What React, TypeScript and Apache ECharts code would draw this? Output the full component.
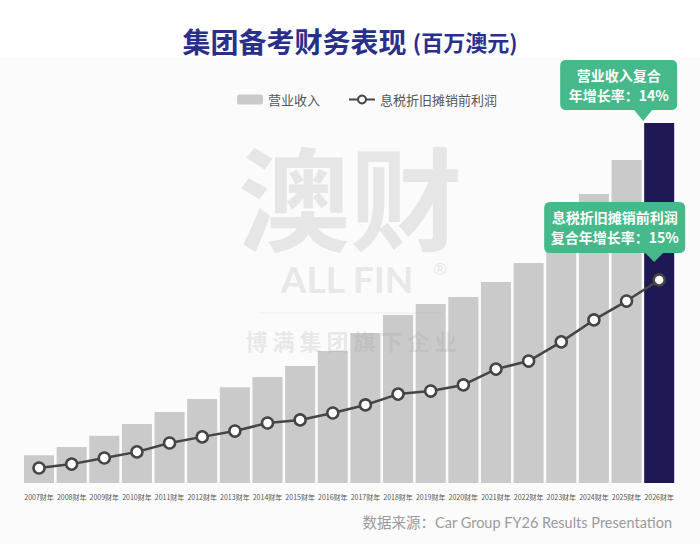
import React, { useEffect, useRef } from "react";
import * as echarts from "echarts";

const categories = [
  "2007财年", "2008财年", "2009财年", "2010财年", "2011财年", "2012财年", "2013财年",
  "2014财年", "2015财年", "2016财年", "2017财年", "2018财年", "2019财年", "2020财年",
  "2021财年", "2022财年", "2023财年", "2024财年", "2025财年", "2026财年",
];
const revenue = [100, 130, 170, 212, 256, 302, 345, 382, 421, 475, 540, 605, 644, 670, 724, 792, 911, 1040, 1163, 1296];
const ebitda = [54, 68, 90, 112, 144, 166, 187, 216, 227, 252, 281, 320, 331, 353, 410, 439, 508, 587, 655, 731];
const seriesNames = ["营业收入", "息税折旧摊销前利润"];
const revenueNote = "营业收入复合\n年增长率：14%";
const ebitdaNote = "息税折旧摊销前利润\n复合年增长率：15%";
const titleMain = "集团备考财务表现";
const titleUnit = "(百万澳元)";
const sourceText = "数据来源：Car Group FY26 Results Presentation";

const FONT = "'Noto Sans CJK SC', 'Noto Sans', sans-serif";
const GREEN = "#45b98a";
const NAVY = "#1e1854";
const GRAY = "#cacaca";
const LINE = "#454545";
const WM = "rgba(150,150,150,0.21)";

const bubbleTop =
  "path://M6,0 H111 Q117,0 117,6 V44 Q117,50 111,50 H92 L83,61 L74,50 H6 Q0,50 0,44 V6 Q0,0 6,0 Z";
const bubbleBottom =
  "path://M6,0 H135 Q141,0 141,6 V45 Q141,51 135,51 H119 L110,60 L101,51 H6 Q0,51 0,45 V6 Q0,0 6,0 Z";

export default function App() {
  const ref = useRef<HTMLDivElement>(null);
  useEffect(() => {
    document.body.style.margin = "0";
    const chart = echarts.init(ref.current!, null, { renderer: "svg" });
    const last = categories.length - 1;
    chart.setOption({
      animation: false,
      backgroundColor: "#ffffff",
      textStyle: { fontFamily: FONT },
      title: {
        text: `${titleMain} {u|${titleUnit}}`,
        left: "center",
        top: 22,
        textStyle: {
          fontFamily: FONT,
          fontSize: 28,
          fontWeight: "bold",
          color: "#2a2f8c",
          rich: {
            u: { fontFamily: FONT, fontSize: 22, fontWeight: "bold", color: "#2a2f8c" },
          },
        },
      },
      legend: {
        data: seriesNames,
        left: 232,
        top: 88,
        itemWidth: 26,
        itemHeight: 10,
        itemGap: 28,
        textStyle: { color: "#555", fontSize: 13, fontFamily: FONT },
      },
      graphic: [
        {
          type: "rect",
          z: -10,
          shape: { x: 0, y: 58, width: 700, height: 486 },
          style: { fill: "#fbfbfb" },
        },
        {
          type: "text",
          z: 20,
          x: 350,
          y: 194,
          style: {
            text: "澳财",
            fontFamily: FONT,
            fontSize: 112,
            lineHeight: 100,
            fontWeight: "bold",
            fill: WM,
            align: "center",
            verticalAlign: "middle",
          },
        },
        {
          type: "text",
          z: 20,
          x: 347,
          y: 278,
          style: {
            text: "ALL FIN",
            fontFamily: "Lato, 'Noto Sans', sans-serif",
            fontSize: 37,
            lineHeight: 30,
            fontWeight: "bold",
            fill: WM,
            align: "center",
            verticalAlign: "middle",
          },
        },
        {
          type: "text",
          z: 20,
          x: 433,
          y: 268,
          style: {
            text: "®",
            fontFamily: "'Noto Sans', sans-serif",
            fontSize: 17,
            lineHeight: 15,
            fill: WM,
            align: "left",
            verticalAlign: "middle",
          },
        },
        {
          type: "line",
          z: 20,
          shape: { x1: 260, y1: 313, x2: 442, y2: 313 },
          style: { stroke: "rgba(150,150,150,0.15)", lineWidth: 1 },
        },
        {
          type: "text",
          z: 20,
          x: 351,
          y: 340,
          style: {
            text: "博 满 集 团 旗 下 企 业",
            fontFamily: FONT,
            fontSize: 22,
            fontWeight: "bold",
            fill: WM,
            align: "center",
            verticalAlign: "middle",
          },
        },
        {
          type: "text",
          z: 10,
          x: 672,
          y: 522,
          style: {
            text: sourceText,
            fontFamily: "Lato, 'Noto Sans CJK SC', sans-serif",
            fontSize: 14.5,
            fill: "#9a9a9a",
            align: "right",
            verticalAlign: "middle",
          },
        },
      ],
      grid: { left: 22.7, right: 24.5, top: 83, bottom: 61, containLabel: false },
      xAxis: {
        type: "category",
        data: categories,
        axisLine: { show: false },
        axisTick: { show: false },
        axisLabel: { interval: 0, fontSize: 7, color: "#555", margin: 10, fontFamily: FONT },
      },
      yAxis: {
        type: "value",
        min: 0,
        max: 1440,
        show: false,
        splitLine: { show: false },
      },
      series: [
        {
          name: seriesNames[0],
          type: "bar",
          barCategoryGap: "8%",
          itemStyle: { color: GRAY },
          data: revenue.map((v, i) =>
            i === last ? { value: v, itemStyle: { color: NAVY } } : v
          ),
          markPoint: {
            symbol: bubbleTop,
            symbolSize: [117, 61],
            symbolOffset: [-40.5, -32.5],
            symbolKeepAspect: false,
            itemStyle: { color: GREEN, borderWidth: 0 },
            label: {
              show: true,
              position: "inside",
              offset: [0, -5.5],
              formatter: revenueNote,
              color: "#fff",
              fontSize: 14,
              fontWeight: "bold",
              lineHeight: 20,
              align: "center",
              fontFamily: FONT,
            },
            data: [{ coord: [categories[last], revenue[last]] }],
          },
        },
        {
          name: seriesNames[1],
          type: "line",
          z: 3,
          symbol: "circle",
          symbolSize: 11,
          lineStyle: { color: LINE, width: 2.5 },
          itemStyle: { color: "#ffffff", borderColor: LINE, borderWidth: 2.5 },
          data: ebitda,
          markPoint: {
            symbol: bubbleBottom,
            symbolSize: [141, 60],
            symbolOffset: [-44.5, -48],
            symbolKeepAspect: false,
            itemStyle: { color: GREEN, borderWidth: 0 },
            label: {
              show: true,
              position: "inside",
              offset: [0, -4.5],
              formatter: ebitdaNote,
              color: "#fff",
              fontSize: 14,
              fontWeight: "bold",
              lineHeight: 20,
              align: "center",
              fontFamily: FONT,
            },
            data: [{ coord: [categories[last], ebitda[last]] }],
          },
        },
      ],
    });
    return () => chart.dispose();
  }, []);
  return <div ref={ref} style={{ width: 700, height: 544 }} />;
}
